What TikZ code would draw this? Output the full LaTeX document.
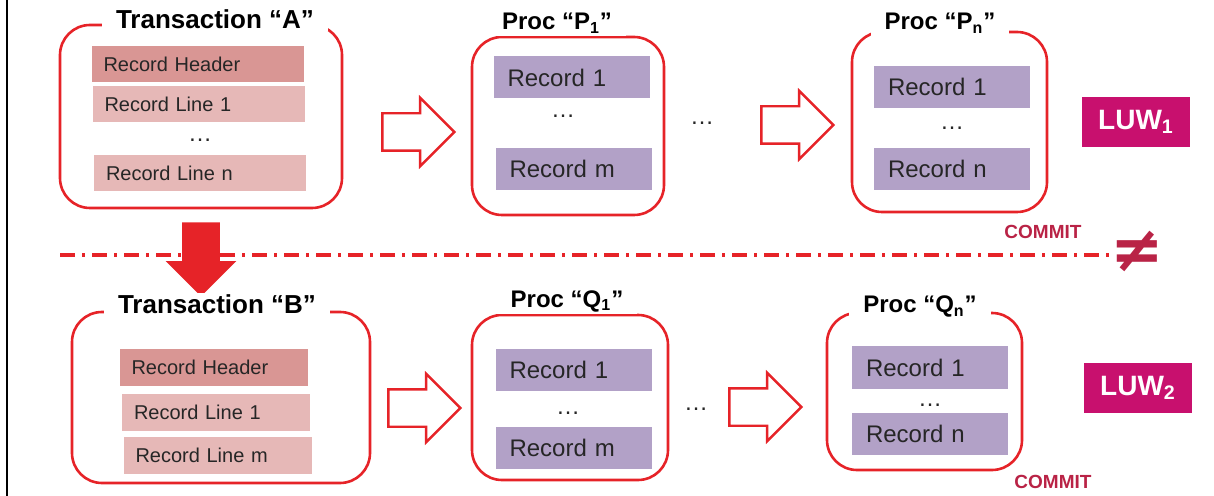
\documentclass[tikz,border=0pt]{standalone}
\usepackage{fontspec}
\setmainfont{Liberation Sans}
\newfontfamily\symfont{DejaVu Sans}
\usetikzlibrary{shapes.arrows}
\definecolor{boxred}{RGB}{230,35,40}
\definecolor{rosehead}{RGB}{217,150,148}
\definecolor{roseline}{RGB}{230,184,183}
\definecolor{lav}{RGB}{178,161,199}
\definecolor{luwpink}{RGB}{200,16,110}
\definecolor{commitred}{RGB}{185,35,70}
\definecolor{textgray}{RGB}{38,38,38}
\tikzset{
  frame/.style={draw=boxred, line width=1.3pt, rounded corners=15pt, inner sep=0pt},
  title/.style={fill=white, inner xsep=7pt, inner ysep=1pt, anchor=base, font=\bfseries\fontsize{13}{15}\selectfont},
  proctitle/.style={title, font=\bfseries\fontsize{12}{14}\selectfont},
  rechead/.style={fill=rosehead, text=textgray, text width=94pt, inner xsep=6pt, inner ysep=0pt, minimum height=18pt, align=left, font=\fontsize{10}{12}\selectfont},
  recline/.style={rechead, fill=roseline},
  recsmall/.style={recline, text width=82pt, minimum height=18.5pt},
  recheadsmall/.style={recsmall, fill=rosehead},
  recproc/.style={fill=lav, text=textgray, text width=64pt, inner xsep=7pt, inner ysep=0pt, minimum height=21pt, align=left, font=\fontsize{12}{14}\selectfont},
  dots/.style={text=textgray, font=\fontsize{12}{14}\selectfont, inner sep=0pt},
  hollow/.style={single arrow, draw=boxred, fill=white, line width=1.2pt, inner xsep=0pt, inner ysep=8.75pt, minimum height=36pt, single arrow head extend=7.75pt},
  luw/.style={fill=luwpink, text=white, minimum width=54pt, minimum height=25pt, font=\bfseries\fontsize{14}{16}\selectfont},
  commit/.style={text=commitred, font=\bfseries\fontsize{9.5}{11}\selectfont, inner sep=0pt}
}
\begin{document}
\begin{tikzpicture}[x=0.5pt, y=-0.5pt]
  \useasboundingbox (0,0) rectangle (1214,496);
  \draw[line width=1pt] (7,0) -- (7,496);
  % separator between the two LUWs
  \coordinate (sepL) at (60,255);
  \coordinate (sepR) at (1110,255);
  \draw[boxred, line width=2.2pt, dash pattern=on 7.5pt off 3.5pt on 1.5pt off 3.5pt] (sepL) -- (sepR);
  % first LUW
  \node[frame, minimum width=141pt, minimum height=91.5pt] (tA) at (201,116.5) {};
  \node[title] (tAt) at (215,29) {Transaction “A”};
  \node[rechead] (hA) at (197.5,64) {Record Header};
  \node[recline] (l1A) at (198.5,104.5) {Record Line 1};
  \node[dots] (dA) at (200,140) {\ldots};
  \node[recline] (lnA) at (200,173) {Record Line n};
  \node[frame, minimum width=96pt, minimum height=89pt] (p1) at (568,126) {};
  \node[proctitle] (p1t) at (557,30) {Proc “P\textsubscript{1}”};
  \node[recproc] (p1r1) at (571.5,77.5) {Record 1};
  \node[dots] (p1d) at (563,116) {\ldots};
  \node[recproc] (p1rm) at (573.5,169) {Record m};
  \node[frame, minimum width=97.5pt, minimum height=90pt] (pn) at (949.5,122) {};
  \node[proctitle] (pnt) at (940,30) {Proc “P\textsubscript{n}”};
  \node[recproc] (pnr1) at (952,87) {Record 1};
  \node[dots] (pnd) at (952,128) {\ldots};
  \node[recproc] (pnrn) at (952,169) {Record n};
  \node[hollow] (a1) at (409,132) {};
  \node[dots] (mid1) at (702,123) {\ldots};
  \node[hollow] (a2) at (788,125) {};
  \node[luw] (luw1) at (1136,122) {LUW\textsubscript{1}};
  \node[commit] (c1) at (1043,232) {COMMIT};
  \node[text=commitred, inner sep=0pt, font=\symfont\bfseries\fontsize{32}{34}\selectfont] (neq) at (1137,251) {≠};
  % hand over to the second LUW
  \node[single arrow, fill=boxred, shape border rotate=270, inner sep=9.25pt, minimum height=37pt, single arrow head extend=8.25pt] (down) at (201,250) {};
  % second LUW
  \node[frame, minimum width=149pt, minimum height=85.5pt] (tB) at (221,397.5) {};
  \node[title] (tBt) at (217,314) {Transaction “B”};
  \node[recheadsmall] (hB) at (213.5,367.5) {Record Header};
  \node[recsmall] (l1B) at (216,412.5) {Record Line 1};
  \node[recsmall] (lmB) at (217.5,455) {Record Line m};
  \node[frame, minimum width=98pt, minimum height=82.5pt] (q1) at (570,397.5) {};
  \node[proctitle] (q1t) at (567,307) {Proc “Q\textsubscript{1}”};
  \node[recproc] (q1r1) at (573.5,370) {Record 1};
  \node[dots] (q1d) at (568,413) {\ldots};
  \node[recproc] (q1rm) at (573.5,447.5) {Record m};
  \node[frame, minimum width=97.5pt, minimum height=78.5pt] (qn) at (924.5,391.5) {};
  \node[proctitle] (qnt) at (920,313) {Proc “Q\textsubscript{n}”};
  \node[recproc] (qnr1) at (930,367.5) {Record 1};
  \node[dots] (qnd) at (930,405) {\ldots};
  \node[recproc] (qnrn) at (930,433.5) {Record n};
  \node[hollow] (b1) at (415,408) {};
  \node[dots] (mid2) at (696,409) {\ldots};
  \node[hollow] (b2) at (756,407) {};
  \node[luw] (luw2) at (1138,388) {LUW\textsubscript{2}};
  \node[commit] (c2) at (1053,482) {COMMIT};
\end{tikzpicture}
\end{document}
